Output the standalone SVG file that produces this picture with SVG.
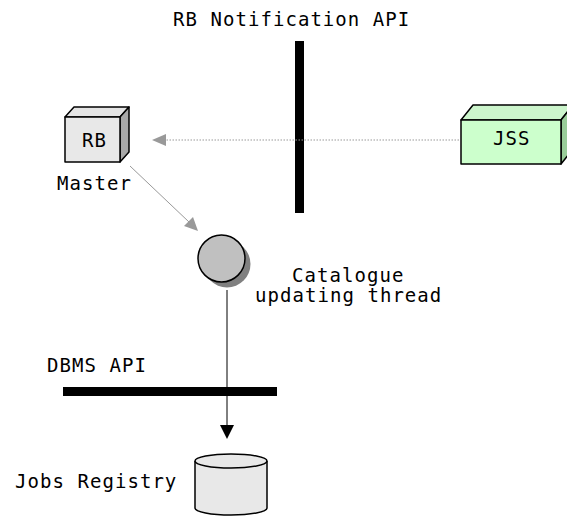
<svg xmlns="http://www.w3.org/2000/svg" width="567" height="517" viewBox="0 0 567 517">
  <style>
    .t { font-family: "DejaVu Sans Mono", "Liberation Mono", monospace; font-size: 19px; letter-spacing: 1.05px; fill: #000; }
    .edge { stroke: #000; stroke-width: 1.5; stroke-linejoin: round; }
    .api { fill: #000; }
  </style>

  <!-- API boundaries -->
  <g id="rb-notification-api">
    <rect class="api" x="295" y="41" width="9" height="172"/>
    <text class="t" x="173" y="26">RB Notification API</text>
  </g>
  <g id="dbms-api">
    <rect class="api" x="63" y="387" width="214" height="9"/>
    <text class="t" x="47" y="372">DBMS API</text>
  </g>

  <!-- Connectors -->
  <g id="connectors">
    <line x1="459" y1="140" x2="165" y2="140" stroke="#999" stroke-width="1" stroke-dasharray="1.5,1.5"/>
    <polygon points="152,140 166,134 166,146" fill="#999"/>
    <line x1="130" y1="166" x2="189" y2="222" stroke="#999" stroke-width="1"/>
    <polygon points="198,231 184,226 193,217" fill="#999"/>
    <line x1="227" y1="290" x2="227" y2="426" stroke="#000" stroke-width="1"/>
    <polygon points="227,439 220,425 234,425" fill="#000"/>
  </g>

  <!-- RB Master node -->
  <g id="rb-master">
    <polygon class="edge" points="65,117 74,107 129,107 120,117" fill="#e4e4e4"/>
    <polygon class="edge" points="120,117 129,107 129,152 120,162" fill="#a8a8a8"/>
    <rect class="edge" x="65" y="117" width="55" height="45" fill="#e8e8e8"/>
    <text class="t" x="82" y="147">RB</text>
    <text class="t" x="57" y="190">Master</text>
  </g>

  <!-- JSS node -->
  <g id="jss">
    <polygon class="edge" points="461,120 473,105 573,105 561,120" fill="#ccf5cc"/>
    <polygon class="edge" points="561,120 573,105 573,149 561,164" fill="#99cc99"/>
    <rect class="edge" x="461" y="120" width="100" height="44" fill="#ccffcc"/>
    <text class="t" x="493" y="145">JSS</text>
  </g>

  <!-- Catalogue updating thread -->
  <g id="catalogue-thread">
    <circle cx="227" cy="264" r="23.5" fill="#808080"/>
    <circle class="edge" cx="221.5" cy="258.5" r="23.5" fill="#c0c0c0"/>
    <text class="t" x="292" y="282">Catalogue</text>
    <text class="t" x="255" y="302">updating thread</text>
  </g>

  <!-- Jobs Registry database -->
  <g id="jobs-registry">
    <path class="edge" d="M195,461 L195,508 A36,7 0 0 0 267,508 L267,461" fill="#e8e8e8"/>
    <ellipse class="edge" cx="231" cy="461" rx="36" ry="7" fill="#e8e8e8"/>
    <text class="t" x="15" y="488">Jobs Registry</text>
  </g>
</svg>
